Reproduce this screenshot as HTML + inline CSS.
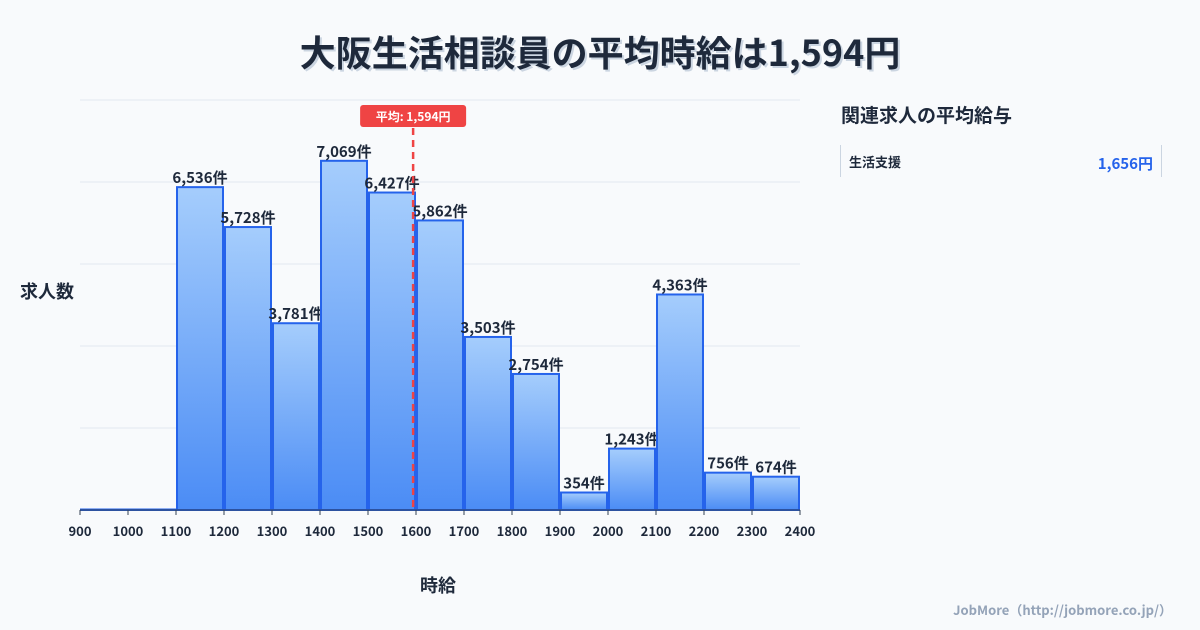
<!DOCTYPE html>
<html><head><meta charset="utf-8"><style>
body{margin:0;width:1200px;height:630px;background:#f8fafc;font-family:"Noto Sans CJK JP","Liberation Sans",sans-serif;overflow:hidden;position:relative}
.t{position:absolute;white-space:nowrap}
</style></head><body>
<div class="t" style="left:0;width:1200px;text-align:center;top:26px;font-size:36px;line-height:50px;font-weight:bold;color:#1e293b;text-shadow:2px 2px 0 #cbd5e1">大阪生活相談員の平均時給は1,594円</div>
<div class="t" style="left:841px;top:100px;font-size:19px;line-height:30px;font-weight:bold;color:#1e293b">関連求人の平均給与</div>
<div style="position:absolute;left:840px;top:145px;width:320px;height:32px;border-left:1px solid #cbd5e1;border-right:1px solid #cbd5e1">
<span class="t" style="left:8px;top:8px;font-size:13px;line-height:18px;font-weight:bold;color:#1e293b">生活支援</span>
<span class="t" style="right:8px;top:9px;font-size:15px;line-height:20px;font-weight:bold;color:#2563eb">1,656円</span></div>
<div class="t" style="left:20px;top:278px;font-size:18px;line-height:26px;font-weight:bold;color:#1e293b">求人数</div>
<div class="t" style="left:420px;top:572px;font-size:18px;line-height:26px;font-weight:bold;color:#1e293b">時給</div>
<div class="t" style="right:28px;top:600px;font-size:13px;line-height:20px;font-weight:bold;color:#94a3b8">JobMore（http://jobmore.co.jp/）</div>
<svg id="c" width="1200" height="630" style="position:absolute;left:0;top:0">
<defs><linearGradient id="g" x1="0" y1="0" x2="0" y2="1"><stop offset="0" stop-color="#a5cdfc"/><stop offset="1" stop-color="#4b8cf5"/></linearGradient></defs>
</svg>
<script>
const binStarts=[900,1000,1100,1200,1300,1400,1500,1600,1700,1800,1900,2000,2100,2200,2300];
const counts=[10,10,6536,5728,3781,7069,6427,5862,3503,2754,354,1243,4363,756,674];
const tickLabels=[900,1000,1100,1200,1300,1400,1500,1600,1700,1800,1900,2000,2100,2200,2300,2400];
const meanWage=1594;
const svg=document.getElementById('c');const NS='http://www.w3.org/2000/svg';
const X0=80,X1=800,Y0=510,YT=100,xMin=900,xMax=2400,yMax=8300;
const x=v=>X0+(v-xMin)/(xMax-xMin)*(X1-X0);
const y=v=>Y0-v/yMax*(Y0-YT);
function mk(t,a){const e=document.createElementNS(NS,t);for(const k in a)e.setAttribute(k,a[k]);svg.appendChild(e);return e;}
for(let i=0;i<=5;i++){const gy=YT+i*(Y0-YT)/5;const l=mk('line',{x1:X0,x2:X1,y1:gy,y2:gy,stroke:'#e2e8f0','stroke-width':1});

}
const fmt=n=>n.toLocaleString('en-US');
binStarts.forEach((b,i)=>{const x1=x(b),x2=x(b+100),yt=y(counts[i]);
const r=mk('rect',{x:x1+1,y:yt,width:x2-x1-2,height:Y0-yt,fill:'url(#g)',stroke:'#2563eb','stroke-width':2});


if(counts[i]>100){const t=mk('text',{x:(x1+x2)/2,y:yt-4,'text-anchor':'middle','font-size':15,'font-weight':'bold',fill:'#1e293b'});t.textContent=fmt(counts[i])+'件';

}});
mk('line',{x1:X0,x2:X1,y1:Y0,y2:Y0,stroke:'#334155','stroke-width':1});
tickLabels.forEach(v=>{mk('line',{x1:x(v),x2:x(v),y1:Y0,y2:Y0+5,stroke:'#334155'});
const t=mk('text',{x:x(v),y:536,'text-anchor':'middle','font-size':13,'font-weight':'bold',fill:'#1e293b'});t.textContent=v;

});
const mx=x(meanWage);
const ml=mk('line',{x1:mx,x2:mx,y1:128,y2:Y0,stroke:'#ef4444','stroke-width':2.5,'stroke-dasharray':'7,5'});


const mr=mk('rect',{x:mx-53,y:105,width:106,height:22,rx:3,fill:'#ef4444'});


const mt=mk('text',{x:mx,y:121,'text-anchor':'middle','font-size':12,'font-weight':'bold',fill:'#fff'});mt.textContent='平均: '+fmt(meanWage)+'円';


</script>
</body></html>
